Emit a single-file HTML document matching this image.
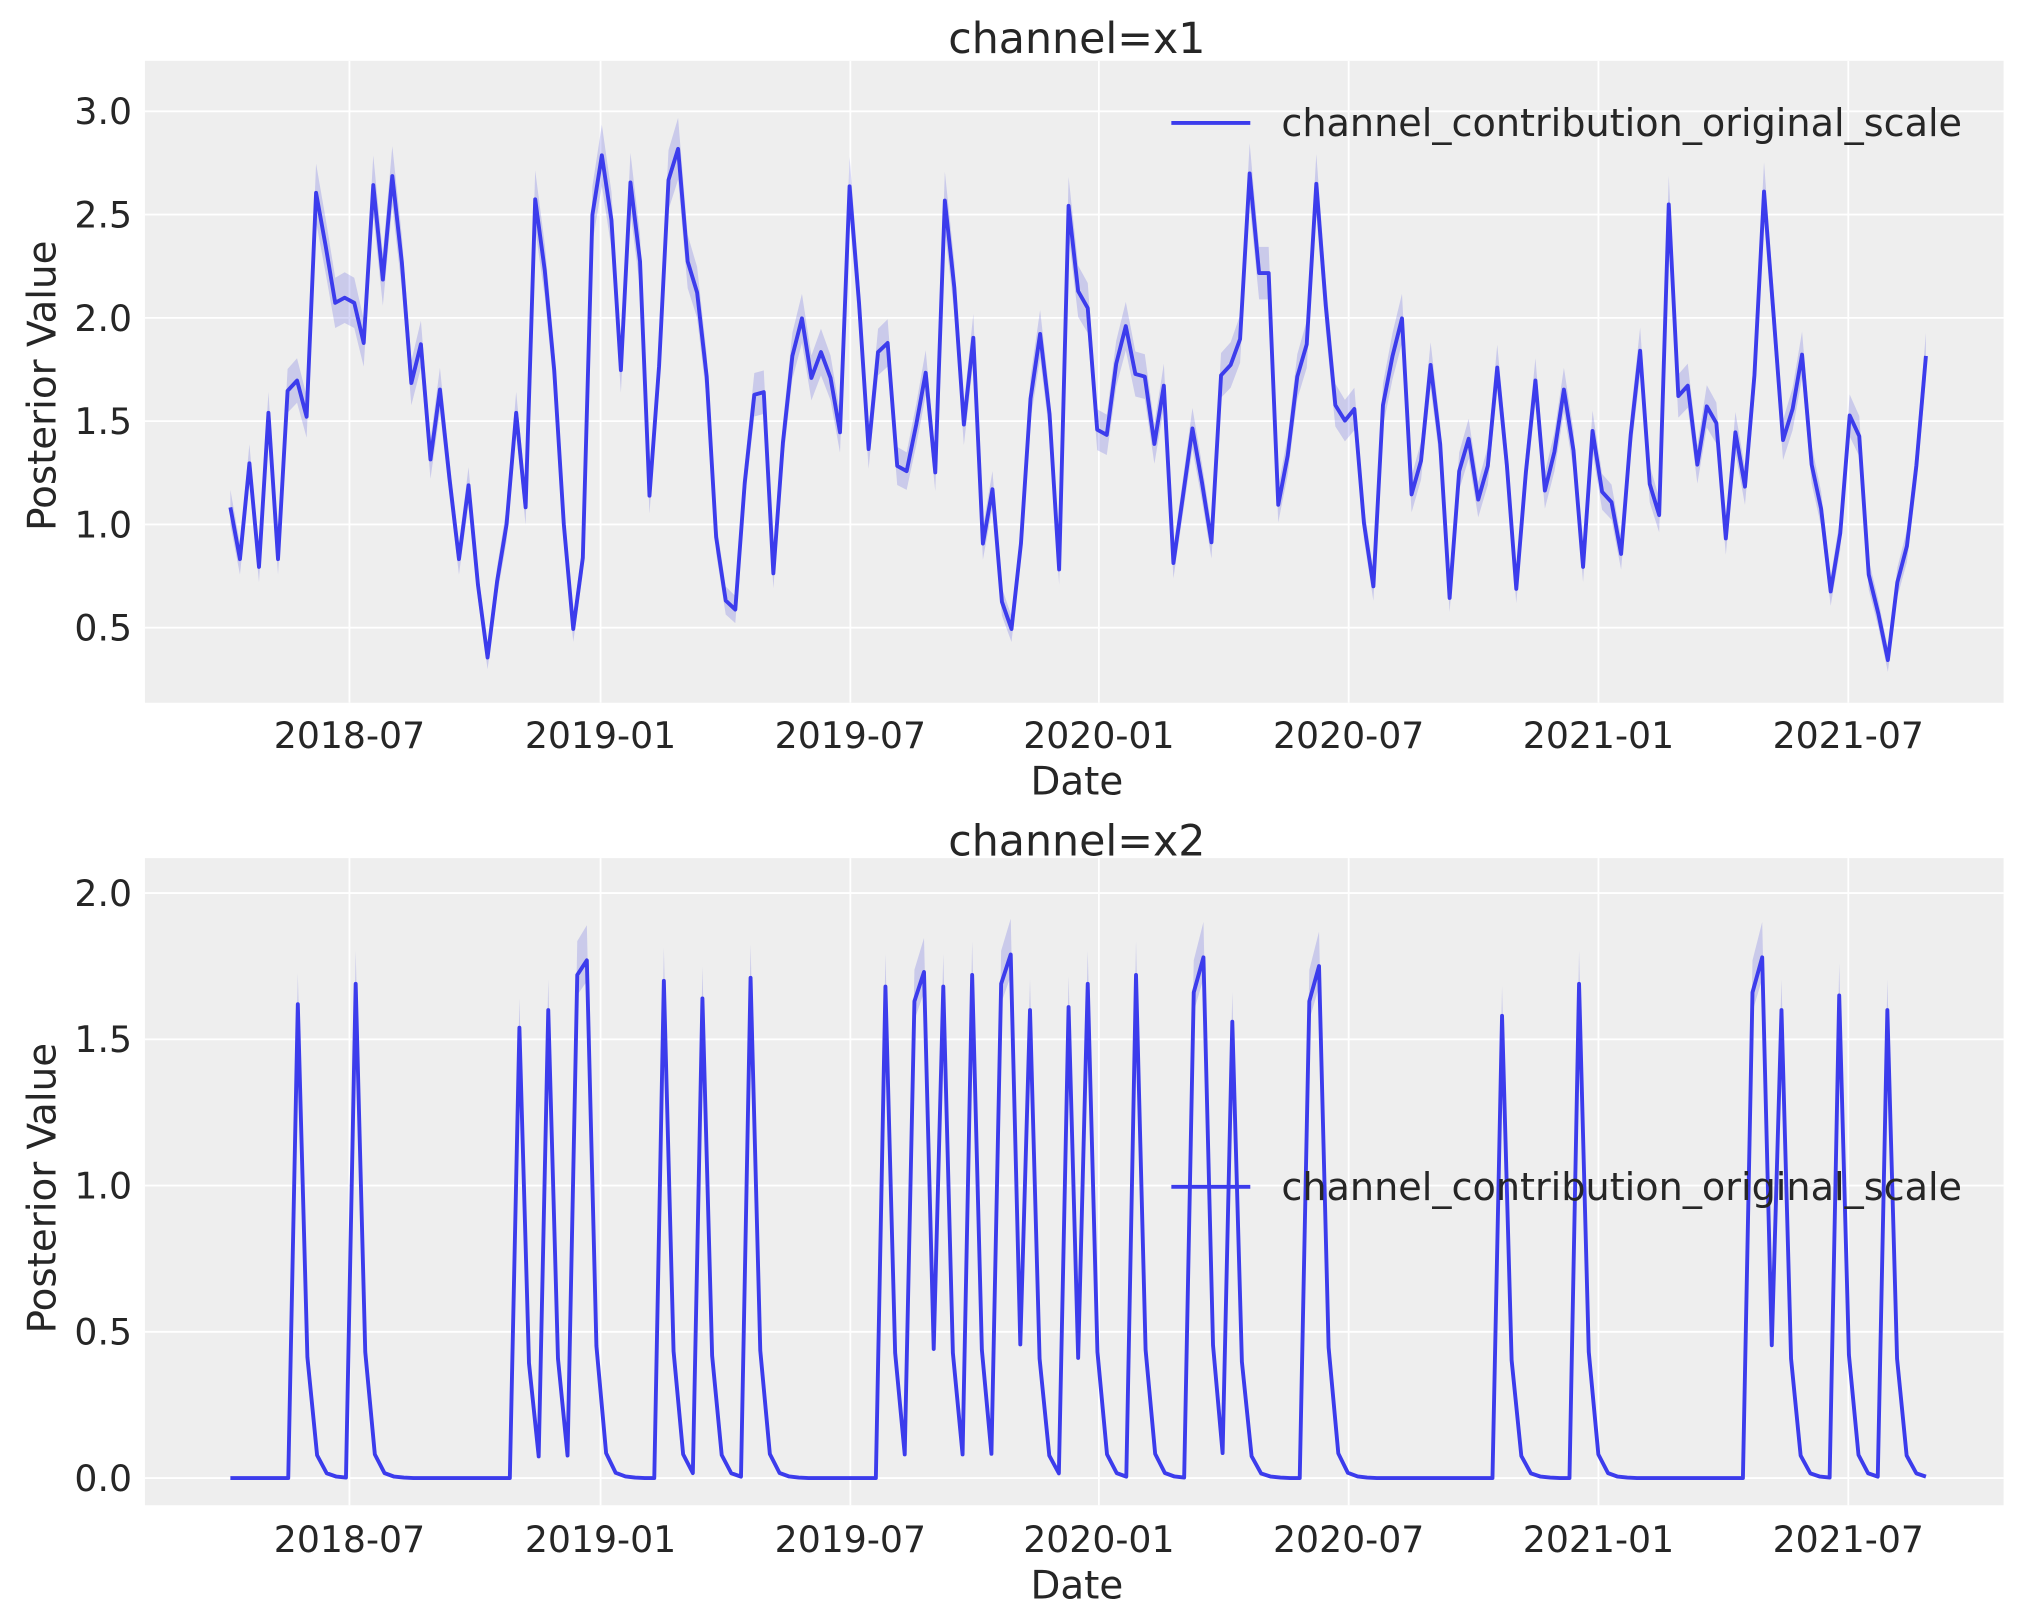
<!DOCTYPE html>
<html><head><meta charset="utf-8"><style>
html,body{margin:0;padding:0;background:#fff;}
svg{display:block;}
text{font-family:"DejaVu Sans","Liberation Sans",sans-serif;fill:#262626;}
</style></head><body>
<svg id="s" width="2023" height="1623" viewBox="0 0 1563 1254" preserveAspectRatio="none" xmlns="http://www.w3.org/2000/svg">
<rect x="0" y="0" width="1563" height="1254" fill="#fff"/>
<rect x="112" y="47" width="1436" height="496" fill="#eeeeee"/>
<g id="g1" stroke="#fff" stroke-width="1.4"></g>
<g id="d1"></g>
<text x="832" y="41" font-size="33" text-anchor="middle">channel=x1</text>
<text x="832" y="614" font-size="30" text-anchor="middle">Date</text>
<text transform="translate(43,298) rotate(-90)" font-size="30" text-anchor="middle">Posterior Value</text>
<line x1="905" y1="95" x2="966" y2="95" stroke="#3c3cec" stroke-width="3"/>
<text x="990" y="105" font-size="29.5">channel_contribution_original_scale</text>
<rect x="112" y="663" width="1436" height="500" fill="#eeeeee"/>
<g id="g2" stroke="#fff" stroke-width="1.4"></g>
<g id="d2"></g>
<text x="832" y="661" font-size="33" text-anchor="middle">channel=x2</text>
<text x="832" y="1235" font-size="30" text-anchor="middle">Date</text>
<text transform="translate(43,918) rotate(-90)" font-size="30" text-anchor="middle">Posterior Value</text>
<line x1="905" y1="917" x2="966" y2="917" stroke="#3c3cec" stroke-width="3"/>
<text x="990" y="927" font-size="29.5">channel_contribution_original_scale</text>
<g id="labels"></g>
</svg>
<script>
var NS="http://www.w3.org/2000/svg";
function el(p,t,a,txt){var e=document.createElementNS(NS,t);for(var k in a)e.setAttribute(k,a[k]);if(txt)e.textContent=txt;document.getElementById(p).appendChild(e);return e;}
var xt=[270,464,657,849,1042,1235,1428],xl=["2018-07","2019-01","2019-07","2020-01","2020-07","2021-01","2021-07"];
var y1=function(v){return 86+(3-v)*159.6;};
for(var i=0;i<xt.length;i++){el('g1','line',{x1:xt[i],x2:xt[i],y1:47,y2:543});el('g2','line',{x1:xt[i],x2:xt[i],y1:663,y2:1163});
el('labels','text',{x:xt[i],y:578,'font-size':28,'text-anchor':'middle'},xl[i]);
el('labels','text',{x:xt[i],y:1199,'font-size':28,'text-anchor':'middle'},xl[i]);}
[0.5,1,1.5,2,2.5,3].forEach(function(v){var y=y1(v);el('g1','line',{x1:112,x2:1548,y1:y,y2:y});el('labels','text',{x:102,y:y+10,'font-size':28,'text-anchor':'end'},v.toFixed(1));});
var y2=function(v){return 1142-v*226;};
[0,0.5,1,1.5,2].forEach(function(v){var y=y2(v);el('g2','line',{x1:112,x2:1548,y1:y,y2:y});el('labels','text',{x:102,y:y+10,'font-size':28,'text-anchor':'end'},v.toFixed(1));});
var Y=[392,432,358,438,319,432,302,294,322,149,190,234,230,234,265,143,216,136,203,296,266,355,301,370,432,375,452,508,449,405,319,392,154,209,286,405,486,431,166,120,170,286,141,202,383,283,139,115,202,226,291,415,464,471,373,305,303,443,342,275,246,292,272,292,334,144,234,347,272,265,360,364,328,288,365,155,222,328,261,420,378,465,486,420,308,258,320,440,159,225,238,332,336,281,252,289,291,343,298,435,383,331,373,419,290,282,262,134,211,211,390,352,291,266,142,236,313,325,316,404,453,313,275,246,382,356,282,343,462,364,339,386,360,284,359,455,365,294,379,349,301,348,438,333,380,388,428,336,271,374,398,158,306,298,359,314,327,416,334,376,290,148,242,340,316,274,359,393,457,412,321,337,444,474,510,450,422,360,275];
var n=Y.length,st=1310/(n-1),up=[],lo=[],ln=[];
for(var i=0;i<n;i++){var x=178+i*st,v=3-(Y[i]-86)/159.6,h=7+v*6;up.push(x.toFixed(1)+','+(Y[i]-h).toFixed(1));lo.unshift(x.toFixed(1)+','+(Y[i]+h).toFixed(1));ln.push(x.toFixed(1)+','+Y[i]);}
el('d1','polygon',{points:up.concat(lo).join(' '),fill:'rgba(60,60,220,0.2)'});
el('d1','polyline',{points:ln.join(' '),fill:'none',stroke:'#3c3cec','stroke-width':3,'stroke-linejoin':'round'});
var N=177,st2=1310/(N-1);
var sp=[[229,1.62],[273,1.69],[398,1.54],[427,1.60],[449,1.72],[457,1.77],[515,1.70],[545,1.64],[581,1.71],[684,1.68],[706,1.63],[713,1.73],[728,1.68],[750,1.72],[772,1.69],[779,1.79],[794,1.60],[823,1.61],[838,1.69],[875,1.72],[926,1.66],[933,1.78],[955,1.56],[1014,1.63],[1021,1.75],[1160,1.58],[1219,1.69],[1351,1.66],[1358,1.78],[1373,1.60],[1424,1.65],[1461,1.60]];
var V=[];for(var i=0;i<N;i++)V.push(0);
var last={};sp.forEach(function(s){var k=Math.round((s[0]-178)/st2);last[k]=s[1];});
var cur=0,age=99;
for(var i=0;i<N;i++){if(last[i]!==undefined){cur=last[i];age=0;V[i]=cur;}else{age++;var r=[1,0.255,0.048,0.01,0.003,0.001];V[i]=age<6?cur*r[age]:0;}}
var up2=[],lo2=[],ln2=[];
for(var i=0;i<N;i++){var x=178+i*st2,y=y2(V[i]),h=V[i]*10+V[i]*V[i]*3;up2.push(x.toFixed(1)+','+(y-h).toFixed(1));lo2.unshift(x.toFixed(1)+','+(y+h*0.6).toFixed(1));ln2.push(x.toFixed(1)+','+y.toFixed(1));}
el('d2','polygon',{points:up2.concat(lo2).join(' '),fill:'rgba(60,60,220,0.2)'});
el('d2','polyline',{points:ln2.join(' '),fill:'none',stroke:'#3c3cec','stroke-width':3,'stroke-linejoin':'round'});
</script>
</body></html>
